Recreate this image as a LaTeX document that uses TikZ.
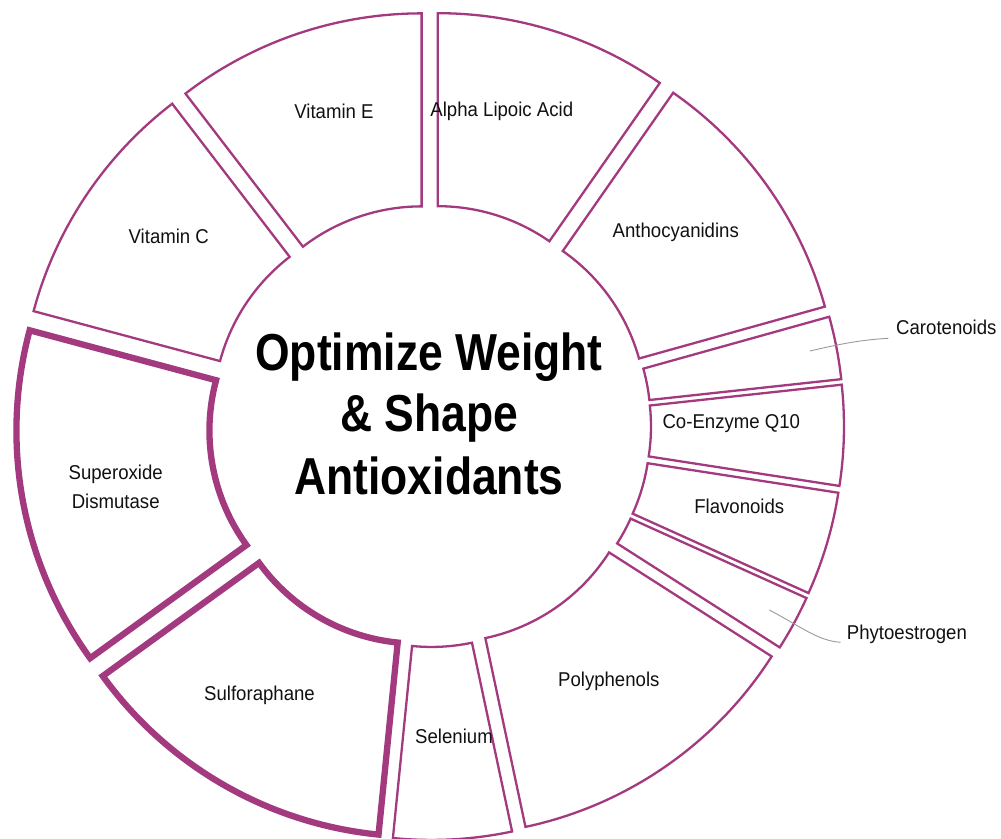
\documentclass[tikz,border=0pt]{standalone}
\usepackage{fontspec}
\setmainfont{Liberation Sans}[FakeStretch=0.93]
\newfontfamily\titlefont{Liberation Sans}[FakeStretch=0.855]
\usetikzlibrary{calc}
\definecolor{ring}{HTML}{A3397E}
\definecolor{conn}{HTML}{9A9A9A}
\definecolor{ink}{HTML}{111111}
% #1 extra style, #2 larger angle, #3 smaller angle
\newcommand\donutslice[3][]{%
  \pgfmathsetmacro\mA{(#2+#3)/2}%
  \pgfmathsetmacro\ax{430+26*cos(\mA)}%
  \pgfmathsetmacro\ay{412+26*sin(\mA)}%
  \draw[ringslice,#1] ($(\ax,\ay)+(#3:195pt)$)
     arc[start angle=#3, end angle=#2, radius=195pt]
     -- ($(\ax,\ay)+(#2:388pt)$)
     arc[start angle=#2, end angle=#3, radius=388pt] -- cycle;%
}
\begin{document}
\begin{tikzpicture}[x=1pt,y=1pt,
  ringslice/.style={draw=ring, fill=white, line width=2.3pt, line join=miter},
  thickslice/.style={line width=6.3pt},
  lbl/.style={font=\fontsize{20}{24}\selectfont, text=ink, inner sep=0pt, anchor=base},
  extlbl/.style={lbl, anchor=base west},
  ttl/.style={font=\titlefont\bfseries\fontsize{52}{62}\selectfont, text=black, inner sep=0pt, anchor=base},
  connector/.style={draw=conn, line width=0.9pt}]
\useasboundingbox (0,0) rectangle (1001,838);
\fill[white] (0,0) rectangle (1001,838);
\clip (0,0) rectangle (1001,838);

% slices (clockwise from top)
\donutslice{90}{55.1}          % Alpha Lipoic Acid
\donutslice{55.1}{15.6}        % Anthocyanidins
\donutslice{15.6}{6.2}         % Carotenoids
\donutslice{6.2}{-8.8}         % Co-Enzyme Q10
\donutslice{-8.8}{-24.3}       % Flavonoids
\donutslice{-24.3}{-32.6}      % Phytoestrogen
\donutslice{-32.6}{-78}        % Polyphenols
\donutslice{-78}{-95.7}        % Selenium
\donutslice[thickslice]{-95.7}{-144.1}   % Sulforaphane
\donutslice[thickslice]{-144.1}{-195}    % Superoxide Dismutase
\donutslice{-195}{-232.5}      % Vitamin C
\donutslice{-232.5}{-270}      % Vitamin E

% centre title
\node[ttl] (title1) at (429,467.3) {Optimize Weight};
\node[ttl] (title2) at (429,406.3) {\& Shape};
\node[ttl] (title3) at (429,343) {Antioxidants};

% inner labels
\node[lbl] (alpha) at (501.8,721.3) {Alpha Lipoic Acid};
\node[lbl] (antho) at (675.8,600.3) {Anthocyanidins};
\node[lbl] (coq) at (731.3,409.7) {Co-Enzyme Q10};
\node[lbl] (flav) at (739.3,324.7) {Flavonoids};
\node[lbl] (poly) at (608.8,151.3) {Polyphenols};
\node[lbl] (selen) at (454,94.7) {Selenium};
\node[lbl] (sulfo) at (259.5,137.5) {Sulforaphane};
\node[lbl] (sod1) at (115.7,358.5) {Superoxide};
\node[lbl] (sod2) at (115.7,329.7) {Dismutase};
\node[lbl] (vitc) at (168.8,594.7) {Vitamin C};
\node[lbl] (vite) at (334,719) {Vitamin E};

% outside labels with connectors
\node[extlbl] (caro) at (896,503) {Carotenoids};
\coordinate (caroP) at (810,487);
\coordinate (caroE) at (888.3,499.7);
\draw[connector] (caroP) .. controls (840,494) and (860,498) .. (caroE);

\node[extlbl] (phyto) at (846.7,198.7) {Phytoestrogen};
\coordinate (phytoP) at (769.3,228);
\coordinate (phytoE) at (840.7,195.7);
\draw[connector] (phytoP) .. controls (800,212) and (818,197) .. (phytoE);
\end{tikzpicture}
\end{document}
